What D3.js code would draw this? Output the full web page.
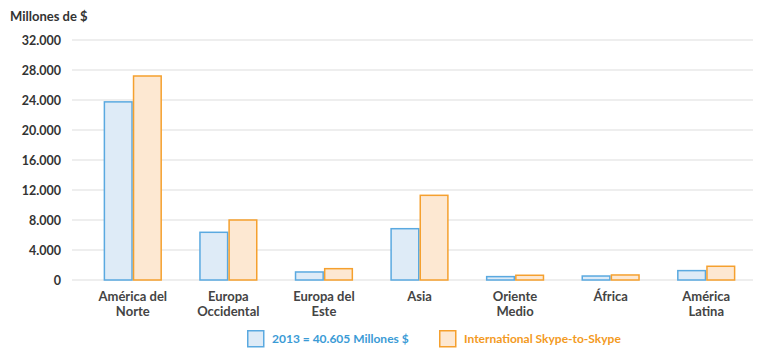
<!DOCTYPE html>
<html>
<head>
<meta charset="utf-8">
<script src="https://cdn.jsdelivr.net/npm/d3@7"></script>
<style>
  body { margin: 0; background: #fff; }
  svg text { font-family: Lato, "Open Sans", sans-serif; }
</style>
</head>
<body>
<div id="chart"></div>
<script>
const regions = [
  ['América del', 'Norte'],
  ['Europa', 'Occidental'],
  ['Europa del', 'Este'],
  ['Asia'],
  ['Oriente', 'Medio'],
  ['África'],
  ['América', 'Latina'],
];
const values2013 = [23750, 6360, 1070, 6840, 450, 530, 1250];
const valuesSkype = [27200, 8000, 1510, 11290, 630, 670, 1830];
const yTicks = [0, 4000, 8000, 12000, 16000, 20000, 24000, 28000, 32000];
const seriesNames = ['2013 = 40.605 Millones $', 'International Skype-to-Skype'];

const width = 764, height = 358;
const colors = [
  { stroke: '#5aa9e0', fill: '#deebf7', text: '#3b9bd6' },
  { stroke: '#f5a02e', fill: '#fde8d2', text: '#f39a1e' },
];

const svg = d3.select('#chart')
  .append('svg')
  .attr('width', width)
  .attr('height', height);

const x = d3.scaleBand()
  .domain(d3.range(regions.length))
  .range([85, 754])
  .paddingInner(0.39)
  .paddingOuter(0.195);

const y = d3.scaleLinear()
  .domain([0, 32000])
  .range([280, 40]);

const fmt = d => d3.format(',')(d).replace(/,/g, '.');

// title
svg.append('text')
  .attr('x', 10)
  .attr('y', 21)
  .attr('font-size', 13)
  .attr('font-weight', 'bold')
  .attr('fill', '#333')
  .text('Millones de $');

// grid
svg.append('g')
  .selectAll('line')
  .data(yTicks)
  .join('line')
  .attr('x1', 72)
  .attr('x2', 753)
  .attr('y1', d => y(d))
  .attr('y2', d => y(d))
  .attr('stroke', '#e9e9e9')
  .attr('stroke-width', 1.5);

// y labels
svg.append('g')
  .selectAll('text')
  .data(yTicks)
  .join('text')
  .attr('x', 61)
  .attr('y', d => y(d) + 4.5)
  .attr('text-anchor', 'end')
  .attr('font-size', 12.5)
  .attr('font-weight', 'bold')
  .attr('fill', '#333')
  .text(fmt);

// bars
const sub = d3.scaleBand()
  .domain([0, 1])
  .range([0, x.bandwidth()]);

const series = [values2013, valuesSkype];
series.forEach((vals, s) => {
  svg.append('g')
    .selectAll('rect')
    .data(vals)
    .join('rect')
    .attr('x', (d, i) => x(i) + sub(s) + 0.75)
    .attr('y', d => y(d))
    .attr('width', sub.bandwidth() - 1.5)
    .attr('height', d => y(0) - y(d))
    .attr('fill', colors[s].fill)
    .attr('stroke', colors[s].stroke)
    .attr('stroke-width', 1.5);
});

// category labels
const cat = svg.append('g')
  .selectAll('text')
  .data(regions)
  .join('text')
  .attr('x', (d, i) => x(i) + x.bandwidth() / 2)
  .attr('y', 301)
  .attr('text-anchor', 'middle')
  .attr('font-size', 13)
  .attr('font-weight', 'bold')
  .attr('fill', '#444');
cat.selectAll('tspan')
  .data(d => d)
  .join('tspan')
  .attr('x', function() { return d3.select(this.parentNode).attr('x'); })
  .attr('dy', (d, i) => i === 0 ? 0 : 15)
  .text(d => d);

// legend
const legendX = [247, 439];
seriesNames.forEach((name, s) => {
  const g = svg.append('g')
    .attr('transform', 'translate(' + legendX[s] + ',330)');
  g.append('rect')
    .attr('x', 0.75)
    .attr('y', 0.75)
    .attr('width', 16)
    .attr('height', 16)
    .attr('fill', colors[s].fill)
    .attr('stroke', colors[s].stroke)
    .attr('stroke-width', 1.5);
  g.append('text')
    .attr('x', 25)
    .attr('y', 13)
    .attr('font-size', 12)
    .attr('font-weight', 'bold')
    .attr('fill', colors[s].text)
    .text(name);
});
</script>
</body>
</html>
